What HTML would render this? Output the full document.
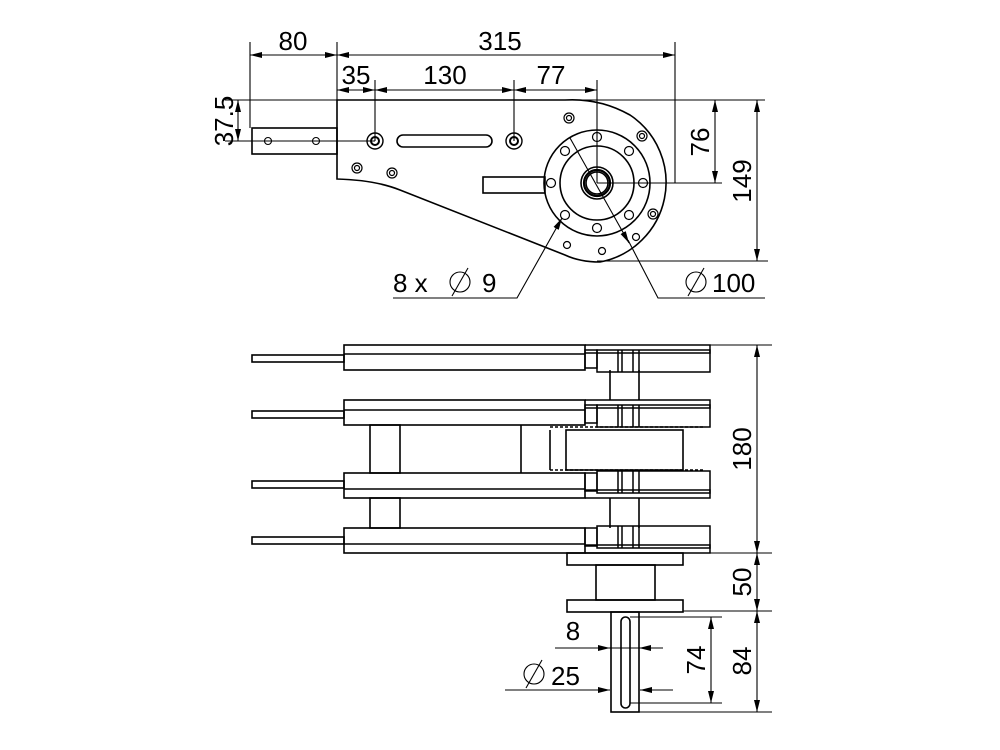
<!DOCTYPE html>
<html><head><meta charset="utf-8"><style>html,body{margin:0;padding:0;background:#fff}svg{display:block}</style></head>
<body>
<svg width="1000" height="750" viewBox="0 0 1000 750" xmlns="http://www.w3.org/2000/svg" font-family="Liberation Sans, sans-serif" font-size="26">
<defs>
<marker id="a" viewBox="0 0 12 6" refX="12" refY="3" markerWidth="12" markerHeight="6" orient="auto-start-reverse" markerUnits="userSpaceOnUse"><path d="M0,0L12,3L0,6z" fill="#000"/></marker>
</defs>
<g stroke="#000" fill="none" stroke-width="1.1">
<line x1="250" y1="42" x2="250" y2="128"/><line x1="337" y1="42" x2="337" y2="100"/><line x1="675" y1="42" x2="675" y2="183"/>
<line x1="250" y1="55" x2="337" y2="55" marker-start="url(#a)" marker-end="url(#a)"/>
<line x1="337" y1="55" x2="675" y2="55" marker-start="url(#a)" marker-end="url(#a)"/>
<line x1="375" y1="80" x2="375" y2="141"/><line x1="514" y1="80" x2="514" y2="141"/><line x1="597" y1="80" x2="597" y2="183"/>
<line x1="337" y1="90" x2="375" y2="90" marker-start="url(#a)" marker-end="url(#a)"/>
<line x1="375" y1="90" x2="514" y2="90" marker-start="url(#a)" marker-end="url(#a)"/>
<line x1="514" y1="90" x2="597" y2="90" marker-start="url(#a)" marker-end="url(#a)"/>
<line x1="225" y1="100" x2="337" y2="100"/><line x1="225" y1="141" x2="375" y2="141"/>
<line x1="238" y1="100" x2="238" y2="141" marker-start="url(#a)" marker-end="url(#a)"/>
<line x1="560" y1="100" x2="765" y2="100"/><line x1="597" y1="183" x2="722" y2="183"/><line x1="597" y1="261" x2="768" y2="261"/>
<line x1="715" y1="100" x2="715" y2="183" marker-start="url(#a)" marker-end="url(#a)"/>
<line x1="757" y1="100" x2="757" y2="261" marker-start="url(#a)" marker-end="url(#a)"/>
<g stroke-width="1.6">
<path d="M337,100 L565,100 Q600,98 630,115 A81,81 0 0 1 600,262 Q580,262 565,255 L400,190 Q375,180 337,179 Z"/>
<rect x="252" y="128" width="85" height="26"/>
<rect x="397" y="135" width="95" height="12" rx="6"/>
<rect x="483" y="177" width="62" height="16"/>
<circle cx="597" cy="183" r="53"/><circle cx="597" cy="183" r="37"/>
<circle cx="597" cy="183" r="16"/><circle cx="597" cy="183" r="13" stroke-width="2.2"/><circle cx="597" cy="183" r="11"/>
</g>
<circle cx="268" cy="141" r="3.5"/><circle cx="316" cy="141" r="3.5"/>
<circle cx="375" cy="141" r="8" stroke-width="1.4"/><circle cx="375" cy="141" r="4" stroke-width="2"/><circle cx="514" cy="141" r="8" stroke-width="1.4"/><circle cx="514" cy="141" r="4" stroke-width="2"/>
<g stroke-width="1.2">
<circle cx="357" cy="168" r="5"/><circle cx="357" cy="168" r="2.5"/>
<circle cx="392" cy="173" r="5"/><circle cx="392" cy="173" r="2.5"/>
<circle cx="569" cy="118" r="5"/><circle cx="569" cy="118" r="2.5"/>
<circle cx="642" cy="136" r="5"/><circle cx="642" cy="136" r="2.5"/>
<circle cx="653" cy="214" r="5"/><circle cx="653" cy="214" r="2.5"/>
<circle cx="597" cy="137" r="4.5"/><circle cx="597" cy="228" r="4.5"/><circle cx="551" cy="183" r="4.5"/><circle cx="643" cy="183" r="4.5"/>
<circle cx="565" cy="151" r="4.5"/><circle cx="629" cy="151" r="4.5"/><circle cx="565" cy="215" r="4.5"/><circle cx="629" cy="215" r="4.5"/>
<circle cx="567" cy="245" r="3.5"/><circle cx="602" cy="251" r="3.5"/><circle cx="636" cy="237" r="3.5"/>
</g>
<polyline points="393,298 517,298 562,218" marker-end="url(#a)"/>
<line x1="570" y1="138" x2="629" y2="243" marker-end="url(#a)"/>
<polyline points="628,240 658,298 765,298"/>
<g stroke-width="1.6">
<rect x="344" y="345" width="241" height="25"/><line x1="344" y1="354" x2="585" y2="354"/><rect x="252" y="355" width="92" height="7"/>
<rect x="344" y="400" width="241" height="25"/><line x1="344" y1="410" x2="585" y2="410"/><rect x="252" y="411" width="92" height="7"/>
<rect x="344" y="473" width="241" height="25"/><line x1="344" y1="489" x2="585" y2="489"/><rect x="252" y="481" width="92" height="7"/>
<rect x="344" y="528" width="241" height="25"/><line x1="344" y1="544" x2="585" y2="544"/><rect x="252" y="537" width="92" height="7"/>
<rect x="370" y="425" width="30" height="48"/><rect x="370" y="498" width="30" height="30"/>
<line x1="521" y1="425" x2="521" y2="473"/><line x1="550" y1="430" x2="550" y2="470"/>
<rect x="566" y="430" width="117" height="40"/>
<line x1="610" y1="370" x2="610" y2="400"/><line x1="639" y1="370" x2="639" y2="400"/>
<line x1="610" y1="498" x2="610" y2="528"/><line x1="639" y1="498" x2="639" y2="528"/>
</g>
<g stroke-width="1.5">
<path d="M585,345H710V353H585M585,400H710V408H585M585,490H710V498H585M585,545H710V553H585"/>
<rect x="585" y="350" width="12" height="18"/><rect x="597" y="350" width="113" height="22"/><line x1="618" y1="350" x2="618" y2="372"/><line x1="622" y1="350" x2="622" y2="372"/><line x1="633" y1="350" x2="633" y2="372"/><line x1="639" y1="350" x2="639" y2="372"/>
<rect x="585" y="405" width="12" height="18"/><rect x="597" y="405" width="113" height="22"/><line x1="618" y1="405" x2="618" y2="427"/><line x1="622" y1="405" x2="622" y2="427"/><line x1="633" y1="405" x2="633" y2="427"/><line x1="639" y1="405" x2="639" y2="427"/>
<rect x="585" y="473" width="12" height="18"/><rect x="597" y="471" width="113" height="22"/><line x1="618" y1="471" x2="618" y2="493"/><line x1="622" y1="471" x2="622" y2="493"/><line x1="633" y1="471" x2="633" y2="493"/><line x1="639" y1="471" x2="639" y2="493"/>
<rect x="585" y="528" width="12" height="18"/><rect x="597" y="526" width="113" height="22"/><line x1="618" y1="526" x2="618" y2="548"/><line x1="622" y1="526" x2="622" y2="548"/><line x1="633" y1="526" x2="633" y2="548"/><line x1="639" y1="526" x2="639" y2="548"/>
<line x1="550" y1="427" x2="705" y2="427" stroke-dasharray="3,2"/><line x1="550" y1="470" x2="705" y2="470" stroke-dasharray="3,2"/>
</g>
<g stroke-width="1.6">
<rect x="567" y="553" width="116" height="12"/><rect x="596" y="565" width="59" height="35"/><rect x="567" y="600" width="116" height="12"/>
<rect x="611" y="612" width="28" height="100"/><rect x="621" y="617" width="9" height="91" rx="4.5"/>
</g>
<line x1="710" y1="345" x2="772" y2="345"/><line x1="683" y1="553" x2="772" y2="553"/><line x1="683" y1="611" x2="772" y2="611"/><line x1="639" y1="712" x2="772" y2="712"/>
<line x1="630" y1="617" x2="722" y2="617"/><line x1="630" y1="703" x2="722" y2="703"/>
<line x1="757" y1="345" x2="757" y2="553" marker-start="url(#a)" marker-end="url(#a)"/>
<line x1="757" y1="553" x2="757" y2="611" marker-start="url(#a)" marker-end="url(#a)"/>
<line x1="757" y1="611" x2="757" y2="712" marker-start="url(#a)" marker-end="url(#a)"/>
<line x1="711" y1="617" x2="711" y2="703" marker-start="url(#a)" marker-end="url(#a)"/>
<line x1="555" y1="648" x2="610" y2="648" marker-end="url(#a)"/><line x1="663" y1="648" x2="639" y2="648" marker-end="url(#a)"/><line x1="610" y1="648" x2="639" y2="648"/>
<line x1="505" y1="690" x2="610" y2="690" marker-end="url(#a)"/><line x1="673" y1="690" x2="640" y2="690" marker-end="url(#a)"/>
<circle cx="460" cy="282" r="10"/><line x1="452" y1="296" x2="468" y2="268"/>
<circle cx="696" cy="282" r="10"/><line x1="688" y1="296" x2="704" y2="268"/>
<circle cx="534" cy="674" r="10"/><line x1="526" y1="688" x2="542" y2="660"/>
</g>
<g fill="#000">
<text x="293" y="50" text-anchor="middle">80</text>
<text x="500" y="50" text-anchor="middle">315</text>
<text x="356" y="84" text-anchor="middle">35</text>
<text x="445" y="84" text-anchor="middle">130</text>
<text x="551" y="84" text-anchor="middle">77</text>
<text transform="translate(233,121) rotate(-90)" text-anchor="middle">37.5</text>
<text transform="translate(709,142) rotate(-90)" text-anchor="middle">76</text>
<text transform="translate(751,181) rotate(-90)" text-anchor="middle">149</text>
<text x="393" y="292">8 x</text>
<text x="482" y="292">9</text>
<text x="712" y="292">100</text>
<text transform="translate(751,449) rotate(-90)" text-anchor="middle">180</text>
<text transform="translate(751,582) rotate(-90)" text-anchor="middle">50</text>
<text transform="translate(751,661) rotate(-90)" text-anchor="middle">84</text>
<text transform="translate(705,660) rotate(-90)" text-anchor="middle">74</text>
<text x="573" y="640" text-anchor="middle">8</text>
<text x="551" y="685">25</text>
</g>
</svg>
</body></html>
